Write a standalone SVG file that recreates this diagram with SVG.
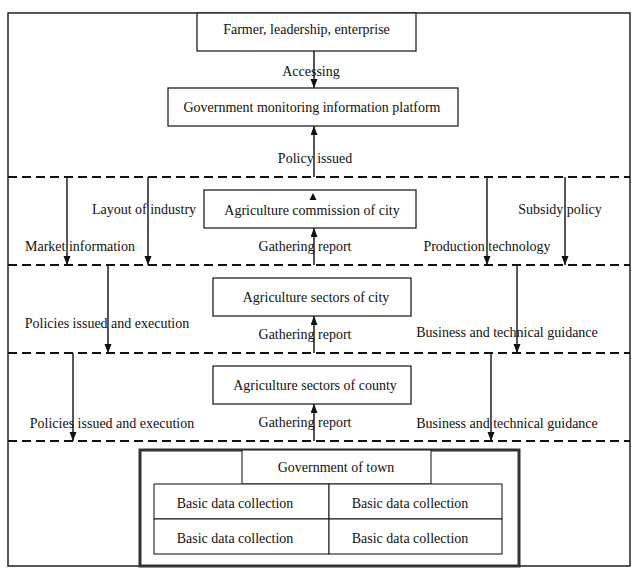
<svg xmlns="http://www.w3.org/2000/svg" width="638" height="575" viewBox="0 0 638 575">
<style>
text{font-family:"Liberation Serif","Times New Roman",serif;font-size:14px;fill:#111;text-anchor:middle}
.box{fill:#fff;stroke:#222;stroke-width:1.3}
.cell{fill:#fff;stroke:#222;stroke-width:1.1}
.dash{stroke:#111;stroke-width:2;stroke-dasharray:9 5;fill:none}
.arr{stroke:#111;stroke-width:1.4;fill:none;marker-end:url(#ah)}
</style>
<defs>
<marker id="ah" markerUnits="userSpaceOnUse" markerWidth="10" markerHeight="8" refX="9" refY="3.5" orient="auto">
<path d="M0,0 L9,3.5 L0,7 z" fill="#111"/>
</marker>
</defs>
<rect x="0" y="0" width="638" height="575" fill="#fff"/>
<rect x="8" y="13" width="622" height="553" fill="none" stroke="#222" stroke-width="1.5"/>
<g id="bands">
<line class="dash" x1="8" y1="177" x2="630" y2="177"/>
<line class="dash" x1="8" y1="265" x2="630" y2="265"/>
<line class="dash" x1="8" y1="353" x2="630" y2="353"/>
<line class="dash" x1="8" y1="441" x2="630" y2="441"/>
</g>
<g id="connectors">
<line class="arr" x1="314" y1="51" x2="314" y2="88"/>
<line class="arr" x1="314" y1="177" x2="314" y2="126"/>
<line class="arr" x1="314" y1="265" x2="314" y2="228"/>
<line class="arr" x1="314" y1="353" x2="314" y2="316"/>
<line class="arr" x1="314" y1="441" x2="314" y2="404"/>
<line class="arr" x1="67" y1="177" x2="67" y2="265"/>
<line class="arr" x1="148" y1="177" x2="148" y2="265"/>
<line class="arr" x1="487" y1="177" x2="487" y2="265"/>
<line class="arr" x1="565" y1="177" x2="565" y2="265"/>
<line class="arr" x1="108" y1="265" x2="108" y2="353"/>
<line class="arr" x1="517" y1="265" x2="517" y2="353"/>
<line class="arr" x1="73" y1="353" x2="73" y2="441"/>
<line class="arr" x1="491" y1="353" x2="491" y2="441"/>
<text x="311" y="75.5">Accessing</text>
<text x="315" y="162.5">Policy issued</text>
<text x="144" y="213.5">Layout of industry</text>
<text x="560" y="213.5">Subsidy policy</text>
<text x="80" y="250.5">Market information</text>
<text x="305" y="250.5">Gathering report</text>
<text x="487" y="250.5">Production technology</text>
<text x="107" y="327.5">Policies issued and execution</text>
<text x="305" y="339">Gathering report</text>
<text x="507" y="336.5">Business and technical guidance</text>
<text x="112" y="427.5">Policies issued and execution</text>
<text x="305" y="426.5">Gathering report</text>
<text x="507" y="427.5">Business and technical guidance</text>
</g>
<g id="farmer">
<rect class="box" x="197" y="13" width="219" height="38"/>
<text x="306.5" y="33.5">Farmer, leadership, enterprise</text>
</g>
<g id="platform">
<rect class="box" x="168" y="88" width="290" height="38"/>
<text x="312" y="111.5">Government monitoring information platform</text>
</g>
<g id="commission">
<rect class="box" x="204" y="190" width="212" height="38"/>
<path d="M309.5,200 L313,193 L316.5,200 z" fill="#111"/>
<text x="312" y="214.5">Agriculture commission of city</text>
</g>
<g id="sectors-city">
<rect class="box" x="213" y="278" width="198" height="38"/>
<text x="316" y="301.5">Agriculture sectors of city</text>
</g>
<g id="sectors-county">
<rect class="box" x="213" y="366" width="198" height="38"/>
<text x="315" y="389.5">Agriculture sectors of county</text>
</g>
<g id="town">
<rect x="140" y="450" width="379" height="116" fill="#fff" stroke="#333" stroke-width="3"/>
<rect class="cell" x="242" y="450" width="189" height="34"/>
<text x="336" y="471.5">Government of town</text>
<rect class="cell" x="154" y="484" width="175" height="35"/>
<rect class="cell" x="329" y="484" width="173" height="35"/>
<rect class="cell" x="154" y="519" width="175" height="35"/>
<rect class="cell" x="329" y="519" width="173" height="35"/>
<text x="235" y="508">Basic data collection</text>
<text x="410" y="508">Basic data collection</text>
<text x="235" y="543">Basic data collection</text>
<text x="410" y="543">Basic data collection</text>
</g>
</svg>
